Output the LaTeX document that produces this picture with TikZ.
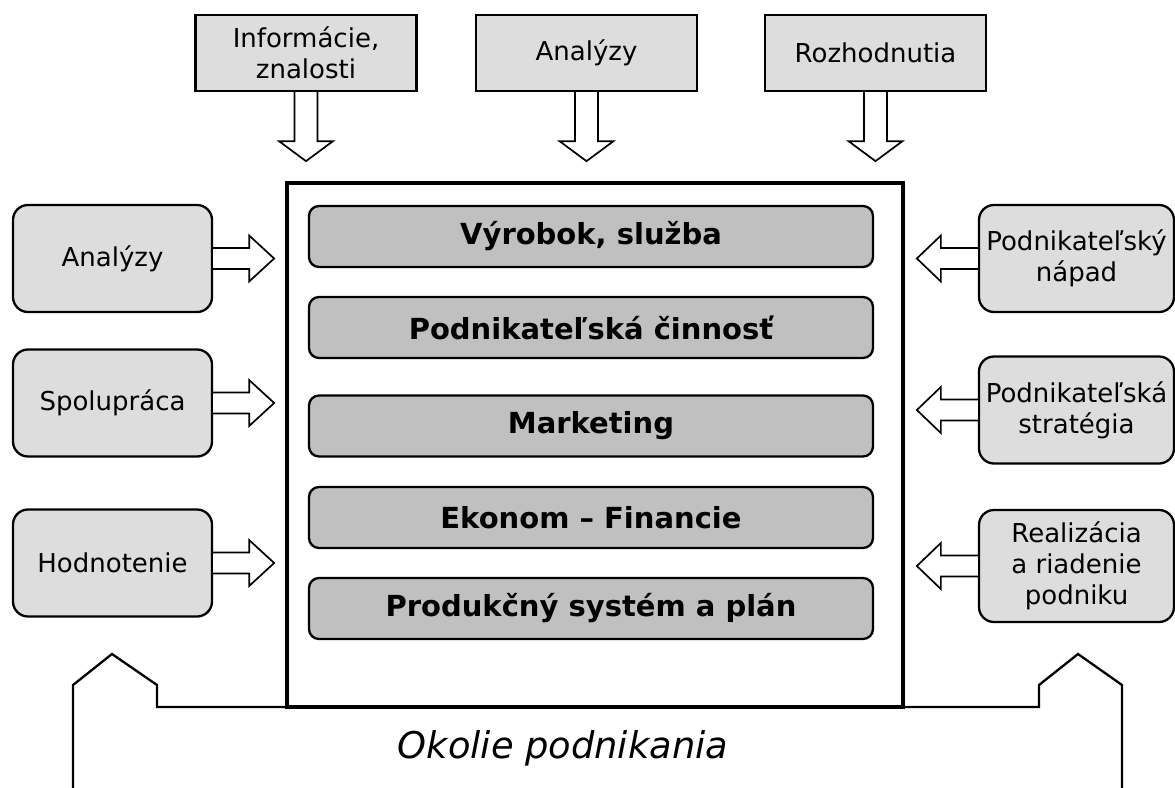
\documentclass[tikz,border=0pt]{standalone}
\usepackage{fontspec}
\setmainfont{DejaVu Sans}
\definecolor{boxfill}{HTML}{DDDDDD}
\definecolor{barfill}{HTML}{C0C0C0}

\tikzset{
    box/.style={draw, line width=2.3pt, fill=boxfill, inner sep=0pt, align=center,
        font=\fontsize{26}{31}\selectfont},
    topbox/.style={box, minimum width=221pt, minimum height=76pt},
    sidebox/.style={box, rounded corners=15pt, minimum width=199pt, minimum height=107pt},
    barbox/.style={draw, line width=2.3pt, fill=barfill, rounded corners=10pt, inner sep=0pt,
        minimum width=564pt, minimum height=61pt, font=\bfseries\fontsize{29}{35}\selectfont},
    hollow/.style={draw, line width=1.7pt, fill=white, line join=miter}
}

\begin{document}
\begin{tikzpicture}[x=1pt,y=-1pt]
    \useasboundingbox (0,0) rectangle (1175,787);

    % inputs from above
    \node[topbox] (info) at (306,53) {Informácie,\\znalosti};
    \node[topbox] (anal) at (586.5,53) {Analýzy};
    \node[topbox] (rozh) at (875.5,53) {Rozhodnutia};

    % the business plan itself
    \node[draw, line width=3.4pt, outer sep=0pt, minimum width=616pt, minimum height=524pt] (firma) at (595,445) {};
    \node[barbox] (vyr) at (591,236.5) {Výrobok, služba};
    \node[barbox] (cin) at (591,327.5) {Podnikateľská činnosť};
    \node[barbox] (mkt) at (591,426) {Marketing};
    \node[barbox] (eko) at (591,517.5) {Ekonom – Financie};
    \node[barbox] (pro) at (591,608.5) {Produkčný systém a plán};

    % left and right inputs
    \node[sidebox] (lana) at (112.5,258.5) {Analýzy};
    \node[sidebox] (lspo) at (112.5,403) {Spolupráca};
    \node[sidebox] (lhod) at (112.5,563) {Hodnotenie};
    \node[sidebox, minimum width=195pt] (rnap) at (1076.5,258.5) {Podnikateľský\\nápad};
    \node[sidebox, minimum width=195pt] (rstr) at (1076.5,410) {Podnikateľská\\stratégia};
    \node[sidebox, minimum width=195pt, minimum height=112pt] (rrea) at (1076.5,566) {Realizácia\\a riadenie\\podniku};

    % hollow block arrows
    \foreach \n in {info,anal,rozh}
        \draw[hollow, shift={(\n.south)}] (-11.5,0) -- (-11.5,49) -- (-27,49) -- (0,69)
            -- (27,49) -- (11.5,49) -- (11.5,0);
    \foreach \n in {lana,lspo,lhod}
        \draw[hollow, shift={(\n.east)}] (0,-10.5) -- (36,-10.5) -- (36,-23) -- (61,0)
            -- (36,23) -- (36,10.5) -- (0,10.5);
    \foreach \n in {rnap,rstr,rrea}
        \draw[hollow, shift={(\n.west)}] (0,-10.5) -- (-37,-10.5) -- (-37,-23) -- (-61,0)
            -- (-37,23) -- (-37,10.5) -- (0,10.5);

    % surroundings
    \draw[line width=2.3pt, line join=miter] (73,795) -- (73,685) -- (112,654) -- (157,685)
        -- (157,707) -- (firma.south west);
    \draw[line width=2.3pt, line join=miter] (firma.south east) -- (1039,707) -- (1039,685)
        -- (1078,654) -- (1122,685) -- (1122,795);
    \node[font=\itshape\fontsize{36.8}{44}\selectfont, anchor=base] (okol) at (563,758) {Okolie podnikania};
\end{tikzpicture}
\end{document}
